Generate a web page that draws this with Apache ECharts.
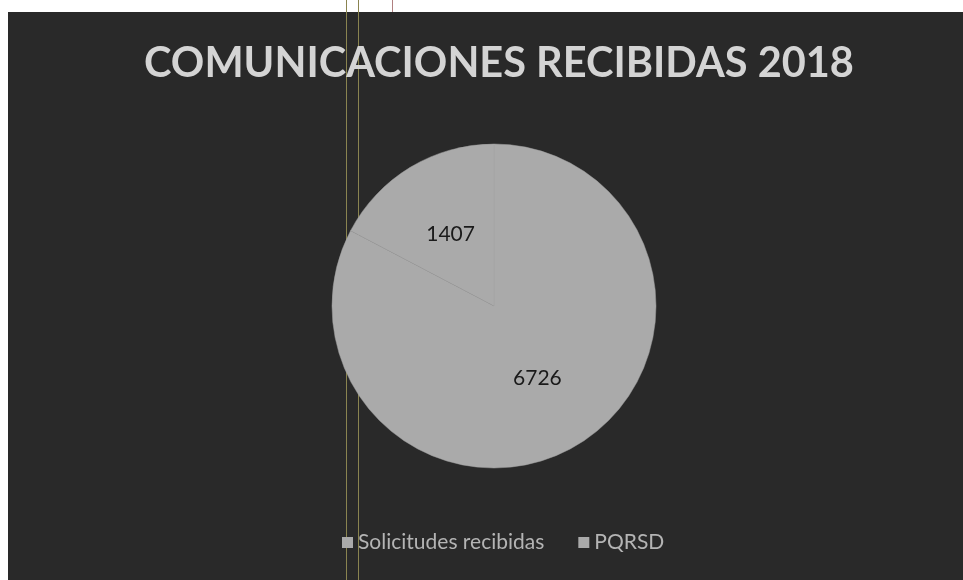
<!DOCTYPE html>
<html>
<head>
<meta charset="utf-8">
<script src="https://cdn.jsdelivr.net/npm/echarts@6/dist/echarts.min.js"></script>
<style>
html,body{margin:0;padding:0;background:#ffffff;}
#chart{width:963px;height:580px;}
</style>
</head>
<body>
<div id="chart"></div>
<script>
const titleText = 'COMUNICACIONES RECIBIDAS 2018';
const categories = ['Solicitudes recibidas', 'PQRSD'];
const values = [6726, 1407];

const chart = echarts.init(document.getElementById('chart'));
chart.setOption({
  backgroundColor: '#ffffff',
  graphic: [
    { type: 'rect', z: -10, shape: { x: 8, y: 12, width: 960, height: 570 }, style: { fill: '#292929' } },
    { type: 'rect', z: -9, shape: { x: 346, y: 0, width: 1, height: 580 }, style: { fill: '#8a8450' } },
    { type: 'rect', z: -9, shape: { x: 358, y: 0, width: 1, height: 580 }, style: { fill: '#8a8450' } },
    { type: 'rect', z: -9, shape: { x: 392, y: 0, width: 1, height: 12 }, style: { fill: '#b08080' } }
  ],
  title: {
    text: titleText,
    left: 494,
    textAlign: 'center',
    top: 38,
    textStyle: { color: '#d4d4d4', fontSize: 41.5, fontWeight: 'bold', fontFamily: 'Lato' }
  },
  legend: {
    data: categories,
    bottom: 22,
    left: 337,
    icon: 'rect',
    itemWidth: 11,
    itemHeight: 11,
    itemGap: 34,
    itemStyle: { borderWidth: 0 },
    textStyle: { color: '#b4b4b4', fontSize: 21, fontFamily: 'Lato' }
  },
  color: ['#aaaaaa', '#aaaaaa'],
  series: [{
    type: 'pie',
    center: [494, 306],
    radius: 162,
    startAngle: 90,
    clockwise: true,
    silent: true,
    itemStyle: { borderColor: '#a0a0a0', borderWidth: 0.5 },
    label: {
      show: true,
      position: 'inner',
      formatter: '{c}',
      color: '#1a1a1a',
      fontSize: 21,
      fontFamily: 'Lato'
    },
    labelLine: { show: false },
    data: categories.map((c, i) => ({ name: c, value: values[i] }))
  }]
});
</script>
</body>
</html>
